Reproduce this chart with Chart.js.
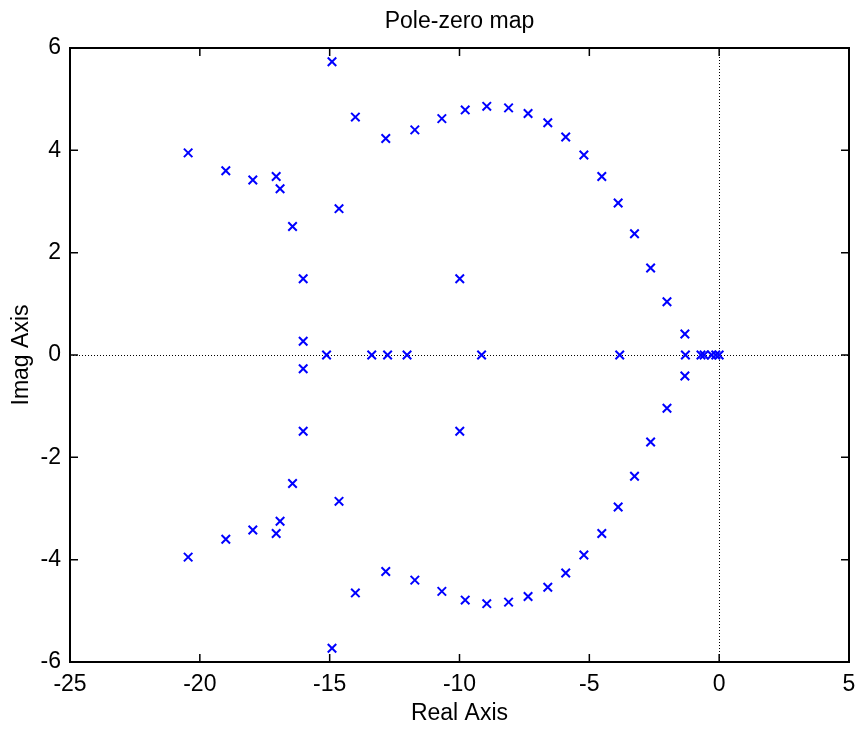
<!DOCTYPE html>
<html>
<head>
<meta charset="utf-8">
<title>Pole-zero map</title>
<script src="https://cdn.jsdelivr.net/npm/chart.js@4.4.1/dist/chart.umd.min.js"></script>
<style>
  html, body { margin: 0; padding: 0; background: #fff; }
</style>
</head>
<body>
<canvas id="pzmap" width="861" height="731"></canvas>
<script>
// complex poles, upper half plane (real part, imag part)
const upperRe = [-20.45, -19.00, -17.96, -17.06, -16.91, -16.43, -16.02, -16.02, -14.91, -14.64, -14.01, -12.84, -11.72,
                 -10.68, -9.78, -8.95, -8.11, -7.36, -6.60, -5.91, -5.21, -4.52, -3.89, -3.26, -2.64, -2.01, -1.32, -9.99]
const upperIm = [3.95, 3.60, 3.42, 3.49, 3.25, 2.51, 1.49, 0.27, 5.73, 2.86, 4.65, 4.23, 4.40,
                 4.62, 4.79, 4.86, 4.83, 4.72, 4.54, 4.26, 3.91, 3.49, 2.97, 2.37, 1.70, 1.04, 0.41, 1.49]
// lower half plane (conjugates, as read)
const lowerRe = [-20.45, -19.00, -17.96, -17.06, -16.91, -16.43, -16.02, -16.02, -14.91, -14.64, -14.01, -12.84, -11.72,
                 -10.68, -9.78, -8.95, -8.11, -7.36, -6.60, -5.91, -5.21, -4.52, -3.89, -3.26, -2.64, -2.01, -1.32, -9.99]
const lowerIm = [-3.95, -3.60, -3.42, -3.49, -3.25, -2.51, -1.49, -0.27, -5.73, -2.86, -4.65, -4.23, -4.40,
                 -4.62, -4.79, -4.86, -4.83, -4.72, -4.54, -4.26, -3.91, -3.49, -2.97, -2.37, -1.70, -1.04, -0.41, -1.49]
// poles on the real axis
const realPoles = [-15.12, -13.38, -12.77, -12.02, -9.15, -3.83, -1.30, -0.70, -0.58, -0.29, -0.13, 0]

const xTicks = [-25, -20, -15, -10, -5, 0, 5]
const yTicks = [-6, -4, -2, 0, 2, 4, 6]

const FONT = "'Liberation Sans', Arial, Helvetica, sans-serif"
const FSIZE = 23

function toPoints(re, im){
    return re.map((r, i) => ({x: r, y: im[i]}))
}

const points = toPoints(upperRe, upperIm)
    .concat(toPoints(lowerRe, lowerIm))
    .concat(realPoles.map(r => ({x: r, y: 0})))

/**
 * MATLAB style frame: box, inward ticks, dotted axes through the origin, title
 */
const matlabFrame = {
    id: 'matlabFrame',
    beforeDatasetsDraw(chart){
        const {ctx, chartArea: a, scales: {x, y}} = chart
        ctx.save()
        ctx.strokeStyle = '#000'
        ctx.lineWidth = 1
        ctx.setLineDash([1, 2])
        const x0 = Math.round(x.getPixelForValue(0)) + 0.5
        const y0 = Math.round(y.getPixelForValue(0)) + 0.5
        ctx.beginPath()
        ctx.moveTo(x0, a.top); ctx.lineTo(x0, a.bottom)
        ctx.moveTo(a.left, y0); ctx.lineTo(a.right, y0)
        ctx.stroke()
        ctx.restore()
    },
    afterDatasetsDraw(chart){
        const {ctx, chartArea: a, scales: {x, y}} = chart
        ctx.save()
        ctx.strokeStyle = '#000'
        ctx.lineWidth = 1.5
        ctx.beginPath()
        xTicks.forEach(v => {
            const px = x.getPixelForValue(v)
            ctx.moveTo(px, a.bottom); ctx.lineTo(px, a.bottom - 8)
            ctx.moveTo(px, a.top); ctx.lineTo(px, a.top + 8)
        })
        yTicks.forEach(v => {
            const py = y.getPixelForValue(v)
            ctx.moveTo(a.left, py); ctx.lineTo(a.left + 8, py)
            ctx.moveTo(a.right, py); ctx.lineTo(a.right - 8, py)
        })
        ctx.stroke()
        ctx.lineWidth = 2
        ctx.strokeRect(a.left, a.top, a.right - a.left, a.bottom - a.top)

        ctx.fillStyle = '#000'
        ctx.font = FSIZE + 'px ' + FONT
        ctx.textAlign = 'center'
        ctx.textBaseline = 'middle'
        ctx.fillText('Pole-zero map', (a.left + a.right) / 2, 22)
        ctx.restore()
    }
}

const pzChart = new Chart(document.getElementById('pzmap').getContext('2d'), {
    type: 'scatter',
    data: {
        datasets: [{
            label: 'Poles',
            data: points,
            pointStyle: 'crossRot',
            pointRadius: 6,
            pointHoverRadius: 6,
            borderColor: '#0000ff',
            backgroundColor: '#0000ff',
            pointBorderWidth: 2
        }]
    },
    options: {
        responsive: false,
        animation: false,
        devicePixelRatio: 1,
        layout: {
            padding: {top: 48, right: 12, left: 0, bottom: 0}
        },
        plugins: {
            legend: {display: false},
            tooltip: {enabled: false}
        },
        scales: {
            x: {
                type: 'linear',
                position: 'bottom',
                min: -25,
                max: 5,
                afterFit(scale){
                    scale.height = 69
                    scale.paddingLeft = 0
                    scale.paddingRight = 0
                },
                afterBuildTicks(scale){ scale.ticks = xTicks.map(v => ({value: v})) },
                grid: {display: false, drawTicks: false},
                border: {display: false},
                ticks: {
                    padding: 9,
                    color: '#000',
                    font: {family: FONT, size: FSIZE}
                },
                title: {
                    display: true,
                    text: 'Real Axis',
                    color: '#000',
                    font: {family: FONT, size: FSIZE},
                    padding: {top: 0, bottom: 4}
                }
            },
            y: {
                type: 'linear',
                min: -6,
                max: 6,
                afterFit(scale){
                    scale.width = 70
                    scale.paddingTop = 0
                    scale.paddingBottom = 0
                },
                afterBuildTicks(scale){ scale.ticks = yTicks.map(v => ({value: v})) },
                grid: {display: false, drawTicks: false},
                border: {display: false},
                ticks: {
                    padding: 9,
                    color: '#000',
                    font: {family: FONT, size: FSIZE}
                },
                title: {
                    display: true,
                    text: 'Imag Axis',
                    color: '#000',
                    font: {family: FONT, size: FSIZE},
                    padding: {top: 8, bottom: 0}
                }
            }
        }
    },
    plugins: [matlabFrame]
})
</script>
</body>
</html>
